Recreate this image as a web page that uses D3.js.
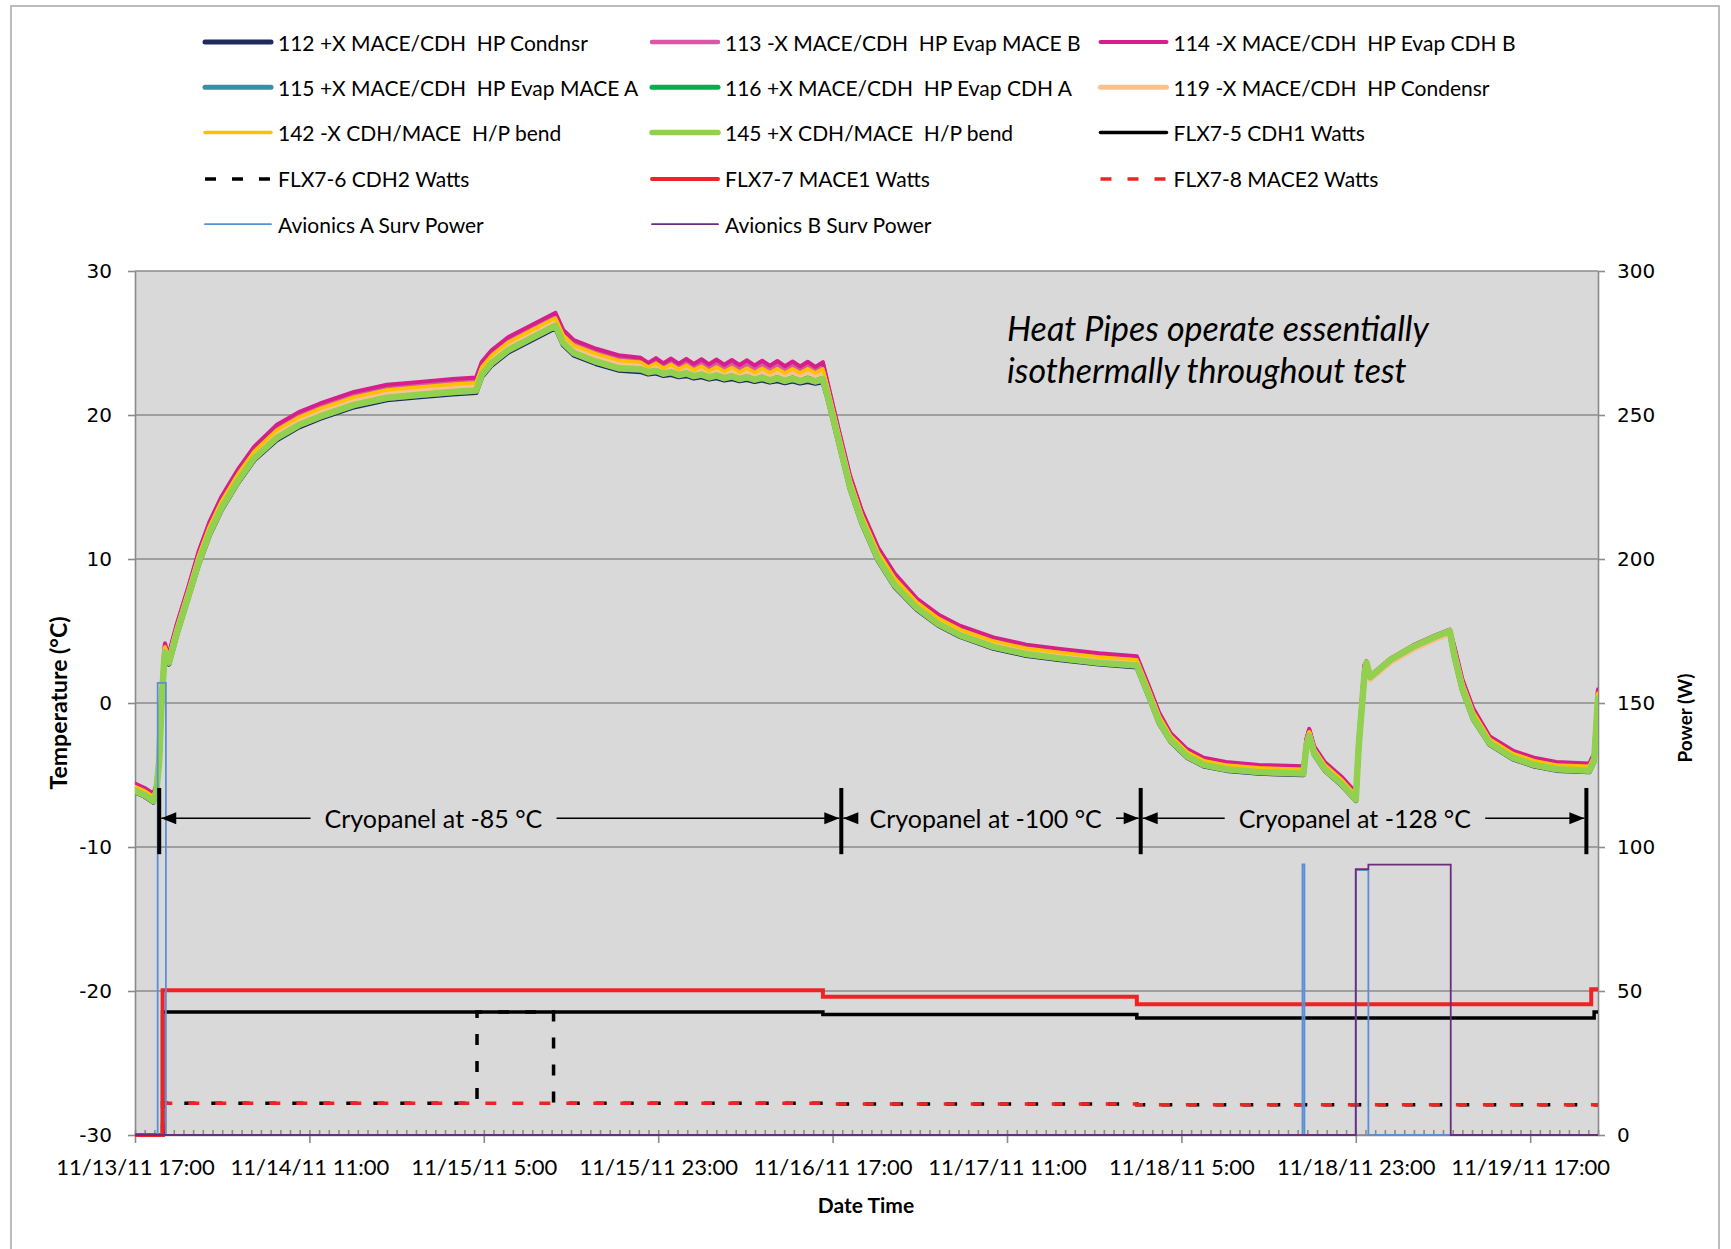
<!DOCTYPE html>
<html>
<head>
<meta charset="utf-8">
<script src="https://cdn.jsdelivr.net/npm/d3@7"></script>
<style>
  html, body { margin: 0; padding: 0; background: #fff; }
  svg text { font-family: Lato, "Noto Sans", sans-serif; fill: #000; white-space: pre; }
</style>
</head>
<body>
<div id="chart"></div>
<script>
// hours after 11/13/11 17:00
const hours = [0, 1.0, 1.9, 2.2, 2.5, 2.7, 3.0, 3.1, 3.3, 3.5, 4.3, 5.5, 6.6, 7.7, 8.9, 10.6, 12.3, 14.6, 16.9, 19.1,
  22.6, 26.0, 29.4, 32.8, 35.2, 35.8, 36.8, 38.5, 40.8, 43.4, 44.2, 45.3, 47.6, 49.9,
  52.2, 52.98, 53.77, 54.55, 55.33, 56.12, 56.9, 57.68, 58.47, 59.25, 60.03, 60.82, 61.6, 62.38, 63.17, 63.95,
  64.73, 65.52, 66.3, 67.08, 67.87, 68.65, 69.43, 70.22, 71.0,
  71.5, 72.7, 73.8, 75.0, 76.7, 78.4, 80.7, 82.9, 85.2, 88.6, 92.0, 95.5, 99.5, 103.4, 104.6, 105.7, 106.9, 108.6,
  110.3, 112.6, 116.0, 120.6, 120.9, 121.2, 121.7, 122.8, 124.5, 126.0, 126.3, 126.9, 127.1, 127.5, 129.6, 131.9,
  134.2, 135.7, 136.2, 137.0, 138.1, 139.8, 142.2, 144.4, 146.7, 150.1, 150.6, 151.0];

// temperatures, deg C
const t112 = [-6.18, -6.48, -6.88, -6.28, -4.08, -0.6, 2.7, 3.4, 2.8, 2.7, 4.7, 7.3, 9.68, 11.68, 13.38, 15.28, 16.88, 18.26, 19.16, 19.76,
  20.56, 21.06, 21.26, 21.46, 21.56, 22.66, 23.46, 24.36, 25.16, 26.06, 24.86, 24.16, 23.56, 23.11,
  23.01, 22.84, 22.91, 22.74, 22.81, 22.65, 22.73, 22.57, 22.65, 22.49, 22.58, 22.43, 22.52, 22.37, 22.46, 22.32,
  22.42, 22.28, 22.38, 22.24, 22.35, 22.22, 22.33, 22.2, 22.31,
  21.16, 17.88, 14.88, 12.48, 9.88, 8.08, 6.5, 5.4, 4.6, 3.8, 3.3, 3.0, 2.7, 2.5, 0.5, -1.4, -2.68, -3.78,
  -4.38, -4.68, -4.88, -4.98, -3.08, -2.38, -3.58, -4.68, -5.68, -6.78, -3.08, 1.9, 2.7, 1.7, 2.9, 3.8,
  4.5, 4.9, 3.1, 0.9, -1.1, -2.88, -3.88, -4.38, -4.68, -4.78, -4.08, 0.2];
const t113 = [-5.68, -5.98, -6.38, -5.78, -3.58, 0.05, 3.35, 4.05, 3.45, 3.35, 5.35, 7.95, 10.48, 12.48, 14.18, 16.08, 17.68, 19.17, 20.07, 20.67,
  21.47, 21.97, 22.17, 22.37, 22.47, 23.57, 24.37, 25.27, 26.07, 26.97, 25.77, 25.07, 24.47, 24.02,
  23.87, 23.49, 23.79, 23.42, 23.72, 23.36, 23.67, 23.3, 23.62, 23.25, 23.58, 23.22, 23.55, 23.19, 23.51, 23.17,
  23.5, 23.16, 23.49, 23.14, 23.49, 23.15, 23.5, 23.16, 23.51,
  22.07, 18.68, 15.68, 13.28, 10.68, 8.88, 7.15, 6.05, 5.25, 4.45, 3.95, 3.65, 3.35, 3.15, 1.15, -0.75, -2.18, -3.28,
  -3.88, -4.18, -4.38, -4.48, -2.58, -1.88, -3.08, -4.18, -5.18, -6.28, -2.58, 2.55, 2.85, 1.85, 3.05, 3.95,
  4.65, 5.05, 3.75, 1.55, -0.45, -2.38, -3.38, -3.88, -4.18, -4.28, -3.58, 0.85];
const t114 = [-5.6, -5.9, -6.3, -5.7, -3.5, 0.15, 3.45, 4.15, 3.55, 3.45, 5.45, 8.05, 10.6, 12.6, 14.3, 16.2, 17.8, 19.3, 20.2, 20.8,
  21.6, 22.1, 22.3, 22.5, 22.6, 23.7, 24.5, 25.4, 26.2, 27.1, 25.9, 25.2, 24.6, 24.15,
  23.97, 23.62, 23.95, 23.59, 23.92, 23.57, 23.9, 23.54, 23.87, 23.52, 23.85, 23.49, 23.82, 23.47, 23.8, 23.44,
  23.77, 23.42, 23.75, 23.39, 23.72, 23.37, 23.7, 23.34, 23.67,
  22.2, 18.8, 15.8, 13.4, 10.8, 9.0, 7.25, 6.15, 5.35, 4.55, 4.05, 3.75, 3.45, 3.25, 1.25, -0.65, -2.1, -3.2,
  -3.8, -4.1, -4.3, -4.4, -2.5, -1.8, -3.0, -4.1, -5.1, -6.2, -2.5, 2.65, 2.9, 1.9, 3.1, 4.0,
  4.7, 5.1, 3.85, 1.65, -0.35, -2.3, -3.3, -3.8, -4.1, -4.2, -3.5, 0.95];
const t115 = [-6.13, -6.43, -6.83, -6.23, -4.03, -0.53, 2.77, 3.47, 2.87, 2.77, 4.77, 7.37, 9.76, 11.76, 13.46, 15.36, 16.96, 18.35, 19.25, 19.85,
  20.65, 21.15, 21.35, 21.55, 21.65, 22.75, 23.55, 24.45, 25.25, 26.15, 24.95, 24.25, 23.65, 23.2,
  23.11, 22.94, 23.01, 22.84, 22.91, 22.75, 22.83, 22.67, 22.75, 22.59, 22.68, 22.53, 22.62, 22.47, 22.56, 22.42,
  22.52, 22.38, 22.48, 22.34, 22.45, 22.32, 22.43, 22.3, 22.41,
  21.25, 17.96, 14.96, 12.56, 9.96, 8.16, 6.57, 5.47, 4.67, 3.87, 3.37, 3.07, 2.77, 2.57, 0.57, -1.33, -2.63, -3.73,
  -4.33, -4.63, -4.83, -4.93, -3.03, -2.33, -3.53, -4.63, -5.63, -6.73, -3.03, 1.97, 2.75, 1.75, 2.95, 3.85,
  4.55, 4.95, 3.17, 0.97, -1.03, -2.83, -3.83, -4.33, -4.63, -4.73, -4.03, 0.27];
const t116 = [-6.06, -6.36, -6.76, -6.16, -3.96, -0.45, 2.85, 3.55, 2.95, 2.85, 4.85, 7.45, 9.86, 11.86, 13.56, 15.46, 17.06, 18.47, 19.37, 19.97,
  20.77, 21.27, 21.47, 21.67, 21.77, 22.87, 23.67, 24.57, 25.37, 26.27, 25.07, 24.37, 23.77, 23.32,
  23.25, 23.06, 23.15, 22.96, 23.05, 22.87, 22.97, 22.79, 22.89, 22.71, 22.82, 22.65, 22.76, 22.59, 22.7, 22.54,
  22.66, 22.5, 22.62, 22.46, 22.59, 22.44, 22.57, 22.42, 22.55,
  21.37, 18.06, 15.06, 12.66, 10.06, 8.26, 6.65, 5.55, 4.75, 3.95, 3.45, 3.15, 2.85, 2.65, 0.65, -1.25, -2.56, -3.66,
  -4.26, -4.56, -4.76, -4.86, -2.96, -2.26, -3.46, -4.56, -5.56, -6.66, -2.96, 2.05, 2.8, 1.8, 3.0, 3.9,
  4.6, 5.0, 3.25, 1.05, -0.95, -2.76, -3.76, -4.26, -4.56, -4.66, -3.96, 0.35];
const t119 = [-5.9, -6.2, -6.6, -6.0, -3.8, -0.24, 3.06, 3.76, 3.16, 3.06, 5.06, 7.66, 10.12, 12.12, 13.82, 15.72, 17.32, 18.76, 19.66, 20.26,
  21.06, 21.56, 21.76, 21.96, 22.06, 23.16, 23.96, 24.86, 25.66, 26.56, 25.36, 24.66, 24.06, 23.61,
  23.5, 23.22, 23.41, 23.13, 23.33, 23.05, 23.26, 22.99, 23.19, 22.92, 23.14, 22.87, 23.09, 22.83, 23.04, 22.79,
  23.02, 22.76, 22.99, 22.74, 22.97, 22.73, 22.97, 22.72, 22.96,
  21.66, 18.32, 15.32, 12.92, 10.32, 8.52, 6.86, 5.76, 4.96, 4.16, 3.66, 3.36, 3.06, 2.86, 0.86, -1.04, -2.4, -3.5,
  -4.1, -4.4, -4.6, -4.7, -2.8, -2.1, -3.3, -4.4, -5.4, -6.5, -2.8, 2.26, 2.6, 1.6, 2.8, 3.7,
  4.4, 4.8, 3.46, 1.26, -0.74, -2.6, -3.6, -4.1, -4.4, -4.5, -3.8, 0.56];
const t142 = [-5.8, -6.1, -6.5, -5.9, -3.7, -0.1, 3.2, 3.9, 3.3, 3.2, 5.2, 7.8, 10.28, 12.28, 13.98, 15.88, 17.48, 18.94, 19.84, 20.44,
  21.24, 21.74, 21.94, 22.14, 22.24, 23.34, 24.14, 25.04, 25.84, 26.74, 25.54, 24.84, 24.24, 23.79,
  23.67, 23.33, 23.59, 23.25, 23.51, 23.18, 23.45, 23.12, 23.39, 23.06, 23.34, 23.02, 23.3, 22.98, 23.26, 22.95,
  23.24, 22.93, 23.22, 22.91, 23.21, 22.91, 23.21, 22.91, 23.21,
  21.84, 18.48, 15.48, 13.08, 10.48, 8.68, 7.0, 5.9, 5.1, 4.3, 3.8, 3.5, 3.2, 3.0, 1.0, -0.9, -2.3, -3.4,
  -4.0, -4.3, -4.5, -4.6, -2.7, -2.0, -3.2, -4.3, -5.3, -6.4, -2.7, 2.4, 2.7, 1.7, 2.9, 3.8,
  4.5, 4.9, 3.6, 1.4, -0.6, -2.5, -3.5, -4.0, -4.3, -4.4, -3.7, 0.7];
const t145 = [-6.1, -6.4, -6.8, -6.2, -4.0, -0.5, 2.8, 3.5, 2.9, 2.8, 4.8, 7.4, 9.8, 11.8, 13.5, 15.4, 17.0, 18.4, 19.3, 19.9,
  20.7, 21.2, 21.4, 21.6, 21.7, 22.8, 23.6, 24.5, 25.3, 26.2, 25.0, 24.3, 23.7, 23.25,
  23.18, 22.97, 23.08, 22.87, 22.98, 22.78, 22.9, 22.7, 22.82, 22.62, 22.75, 22.56, 22.69, 22.5, 22.63, 22.45,
  22.59, 22.41, 22.55, 22.37, 22.52, 22.35, 22.5, 22.33, 22.48,
  21.3, 18.0, 15.0, 12.6, 10.0, 8.2, 6.6, 5.5, 4.7, 3.9, 3.4, 3.1, 2.8, 2.6, 0.6, -1.3, -2.6, -3.7,
  -4.3, -4.6, -4.8, -4.9, -3.0, -2.3, -3.5, -4.6, -5.6, -6.7, -3.0, 2.0, 2.8, 1.8, 3.0, 3.9,
  4.6, 5.0, 3.2, 1.0, -1.0, -2.8, -3.8, -4.3, -4.6, -4.7, -4.0, 0.3];

// power, W (step changes: value holds until next hour entry)
const cdh1Hours = [0, 2.85, 71.0, 103.4, 150.6, 151];
const cdh1Watts = [0, 42.7, 41.8, 40.6, 42.7, 42.7];
const cdh2Hours = [0, 2.85, 35.3, 43.2, 71.0, 103.4, 151];
const cdh2Watts = [0, 11.0, 42.7, 11.0, 10.8, 10.5, 10.5];
const mace1Hours = [0, 2.85, 71.0, 103.4, 150.3, 151];
const mace1Watts = [0, 50.3, 48.0, 45.4, 50.6, 50.6];
const mace2Hours = [0, 2.85, 71.0, 103.4, 151];
const mace2Watts = [0, 11.0, 10.8, 10.5, 10.5];
const avAHours = [0, 2.34, 3.19, 120.5, 120.7, 126.0, 127.3, 151];
const avAWatts = [0, 157, 0, 94, 0, 92, 0, 0];
const avBHours = [0, 126.0, 127.3, 135.8, 151];
const avBWatts = [0, 92.3, 93.9, 0, 0];

const tempTicks = [-30, -20, -10, 0, 10, 20, 30];
const powerTicks = [0, 50, 100, 150, 200, 250, 300];
const majorTickHours = [0, 18, 36, 54, 72, 90, 108, 126, 144];

// cryopanel phases (hours)
const cryoBars = [2.5, 72.9, 103.8, 149.8];
const cryoLabels = ["Cryopanel at -85 °C", "Cryopanel at -100 °C", "Cryopanel at -128 °C"];
const cryoLabelHours = [30.8, 87.8, 125.9];

const startTime = new Date(2011, 10, 13, 17, 0);
const toDate = h => new Date(startTime.getTime() + h * 3600e3);

const W = 1731, H = 1249;
const plot = { left: 135, right: 1598, top: 271, bottom: 1135 };

const x = d3.scaleTime().domain([toDate(0), toDate(151)]).range([plot.left, plot.right]);
const yT = d3.scaleLinear().domain([-30, 30]).range([plot.bottom, plot.top]);
const yP = d3.scaleLinear().domain([0, 300]).range([plot.bottom, plot.top]);

const tempSeries = [
  { name: "112 +X MACE/CDH  HP Condnsr", values: t112, color: "#1f2a5e", width: 5 },
  { name: "113 -X MACE/CDH  HP Evap MACE B", values: t113, color: "#d957a3", width: 4.5 },
  { name: "114 -X MACE/CDH  HP Evap CDH B", values: t114, color: "#d41f8c", width: 4 },
  { name: "115 +X MACE/CDH  HP Evap MACE A", values: t115, color: "#3b8da6", width: 5 },
  { name: "116 +X MACE/CDH  HP Evap CDH A", values: t116, color: "#00b050", width: 5 },
  { name: "119 -X MACE/CDH  HP Condensr", values: t119, color: "#fac08f", width: 5 },
  { name: "142 -X CDH/MACE  H/P bend", values: t142, color: "#ffc000", width: 3.5 },
  { name: "145 +X CDH/MACE  H/P bend", values: t145, color: "#92d050", width: 6.5 }
];
const powerSeries = [
  { name: "FLX7-5 CDH1 Watts", h: cdh1Hours, values: cdh1Watts, color: "#000000", width: 3.5 },
  { name: "FLX7-6 CDH2 Watts", h: cdh2Hours, values: cdh2Watts, color: "#000000", width: 3.5, dash: "11,16" },
  { name: "FLX7-7 MACE1 Watts", h: mace1Hours, values: mace1Watts, color: "#ee2324", width: 4 },
  { name: "FLX7-8 MACE2 Watts", h: mace2Hours, values: mace2Watts, color: "#ee2324", width: 3.5, dash: "11,16", offset: -4 },
  { name: "Avionics A Surv Power", h: avAHours, values: avAWatts, color: "#5b8fd4", width: 1.8 },
  { name: "Avionics B Surv Power", h: avBHours, values: avBWatts, color: "#6e2d7c", width: 1.8 }
];

const svg = d3.select("#chart").append("svg")
  .attr("width", W).attr("height", H);

// chart border
svg.append("rect")
  .attr("x", 11).attr("y", 6).attr("width", 1708).attr("height", 1260)
  .attr("fill", "#fff").attr("stroke", "#a6a6a6").attr("stroke-width", 1.5);

// plot area
svg.append("rect")
  .attr("x", plot.left).attr("y", plot.top)
  .attr("width", plot.right - plot.left).attr("height", plot.bottom - plot.top)
  .attr("fill", "#d9d9d9");

svg.append("defs").append("clipPath").attr("id", "clip")
  .append("rect")
  .attr("x", plot.left).attr("y", plot.top - 4)
  .attr("width", plot.right - plot.left).attr("height", plot.bottom - plot.top + 8);

// gridlines
svg.append("g").selectAll("line").data(tempTicks).join("line")
  .attr("x1", plot.left).attr("x2", plot.right)
  .attr("y1", d => yT(d)).attr("y2", d => yT(d))
  .attr("stroke", "#8a8a8a").attr("stroke-width", 1.6);

// axes
const axisStyle = g => {
  g.selectAll("path, line").attr("stroke", "#8a8a8a").attr("stroke-width", 1.6);
  g.selectAll("text").attr("fill", "#000");
};
const plainNum = d => String(d);

svg.append("g")
  .attr("transform", `translate(${plot.left},0)`)
  .call(d3.axisLeft(yT).tickValues(tempTicks).tickSize(7).tickSizeOuter(0).tickPadding(16).tickFormat(plainNum))
  .call(axisStyle)
  .call(g => g.selectAll("text").style("font-family", "'DejaVu Sans', sans-serif").style("font-size", "20px"));

svg.append("g")
  .attr("transform", `translate(${plot.right},0)`)
  .call(d3.axisRight(yP).tickValues(powerTicks).tickSize(7).tickSizeOuter(0).tickPadding(12).tickFormat(plainNum))
  .call(axisStyle)
  .call(g => g.selectAll("text").style("font-family", "'DejaVu Sans', sans-serif").style("font-size", "20px"));

// minor ticks every hour, inside
svg.append("g")
  .attr("transform", `translate(0,${plot.bottom})`)
  .call(d3.axisBottom(x).tickValues(d3.range(0, 152).map(toDate)).tickSize(-5).tickSizeOuter(0).tickFormat(""))
  .call(axisStyle)
  .call(g => g.select(".domain").remove());

svg.append("g")
  .attr("transform", `translate(0,${plot.bottom})`)
  .call(d3.axisBottom(x).tickValues(majorTickHours.map(toDate)).tickSize(8).tickSizeOuter(0)
    .tickPadding(16).tickFormat(d3.timeFormat("%m/%d/%y %-H:%M")))
  .call(axisStyle)
  .call(g => g.selectAll("text").style("font-size", "22px"));

// temperature lines
const tLine = d3.line().x((d, i) => x(toDate(hours[i]))).y(d => yT(d));
const gLines = svg.append("g").attr("clip-path", "url(#clip)");
tempSeries.forEach(s => {
  gLines.append("path")
    .attr("d", tLine(s.values))
    .attr("fill", "none")
    .attr("stroke", s.color)
    .attr("stroke-width", s.width)
    .attr("stroke-linejoin", "round")
    .attr("stroke-linecap", "round");
});

// power lines
powerSeries.forEach(s => {
  const line = d3.line().curve(d3.curveStepAfter)
    .x((d, i) => x(toDate(s.h[i]))).y(d => yP(d));
  gLines.append("path")
    .attr("d", line(s.values))
    .attr("fill", "none")
    .attr("stroke", s.color)
    .attr("stroke-width", s.width)
    .attr("stroke-dasharray", s.dash || null)
    .attr("stroke-dashoffset", s.offset || null);
});

// cryopanel annotations
const cryoY = yT(-8.0);
const ann = svg.append("g");
ann.selectAll("line.bar").data(cryoBars).join("line")
  .attr("x1", d => x(toDate(d))).attr("x2", d => x(toDate(d)))
  .attr("y1", yT(-5.9)).attr("y2", yT(-10.5))
  .attr("stroke", "#000").attr("stroke-width", 4);

cryoLabels.forEach((label, i) => {
  const xa = x(toDate(cryoBars[i])), xb = x(toDate(cryoBars[i + 1]));
  const t = ann.append("text")
    .attr("x", x(toDate(cryoLabelHours[i]))).attr("y", cryoY)
    .attr("text-anchor", "middle").attr("dominant-baseline", "central")
    .style("font-size", "25px").text(label);
  const bb = t.node().getBBox();
  const gap = 14;
  ann.append("line").attr("x1", xa + 2).attr("x2", bb.x - gap)
    .attr("y1", cryoY).attr("y2", cryoY).attr("stroke", "#000").attr("stroke-width", 1.6);
  ann.append("line").attr("x1", bb.x + bb.width + gap).attr("x2", xb - 2)
    .attr("y1", cryoY).attr("y2", cryoY).attr("stroke", "#000").attr("stroke-width", 1.6);
  // arrow heads
  ann.append("path")
    .attr("d", `M${xa + 2},${cryoY} L${xa + 17},${cryoY - 6} L${xa + 17},${cryoY + 6} Z`)
    .attr("fill", "#000");
  ann.append("path")
    .attr("d", `M${xb - 2},${cryoY} L${xb - 17},${cryoY - 6} L${xb - 17},${cryoY + 6} Z`)
    .attr("fill", "#000");
});

// heat pipe note
const note = svg.append("text")
  .attr("x", x(toDate(90.0))).attr("y", yT(25.15))
  .style("font-size", "34px").style("font-style", "italic");
note.append("tspan").text("Heat Pipes operate essentially");
note.append("tspan").attr("x", x(toDate(90.0))).attr("dy", 42).text("isothermally throughout test");

// axis titles
svg.append("text")
  .attr("transform", `translate(57.5,${(plot.top + plot.bottom) / 2}) rotate(-90)`)
  .attr("text-anchor", "middle").attr("dominant-baseline", "central")
  .style("font-size", "23px").style("font-weight", "bold")
  .text("Temperature (°C)");
svg.append("text")
  .attr("transform", `translate(1684,718) rotate(-90)`)
  .attr("text-anchor", "middle").attr("dominant-baseline", "central")
  .style("font-size", "19px").style("font-weight", "bold")
  .text("Power (W)");
svg.append("text")
  .attr("x", 866).attr("y", 1213)
  .attr("text-anchor", "middle").style("font-size", "21px").style("font-weight", "bold")
  .text("Date Time");

// legend
const legendItems = tempSeries.concat(powerSeries);
const colText = [278, 725, 1173.5];
const rowY = [42, 87.3, 132.6, 178.9, 224.2];
const leg = svg.append("g");
legendItems.forEach((s, i) => {
  const r = Math.floor(i / 3), c = i % 3;
  const y = rowY[r];
  const x1 = colText[c] - 73, x2 = colText[c] - 7;
  leg.append("line")
    .attr("x1", x1).attr("x2", x2).attr("y1", y).attr("y2", y)
    .attr("stroke", s.color)
    .attr("stroke-width", Math.min(s.width, 5.5))
    .attr("stroke-linecap", s.dash ? "butt" : "round")
    .attr("stroke-dasharray", s.dash || null);
  leg.append("text")
    .attr("x", colText[c]).attr("y", y)
    .attr("dominant-baseline", "central")
    .style("font-size", "21px")
    .text(s.name);
});
</script>
</body>
</html>
